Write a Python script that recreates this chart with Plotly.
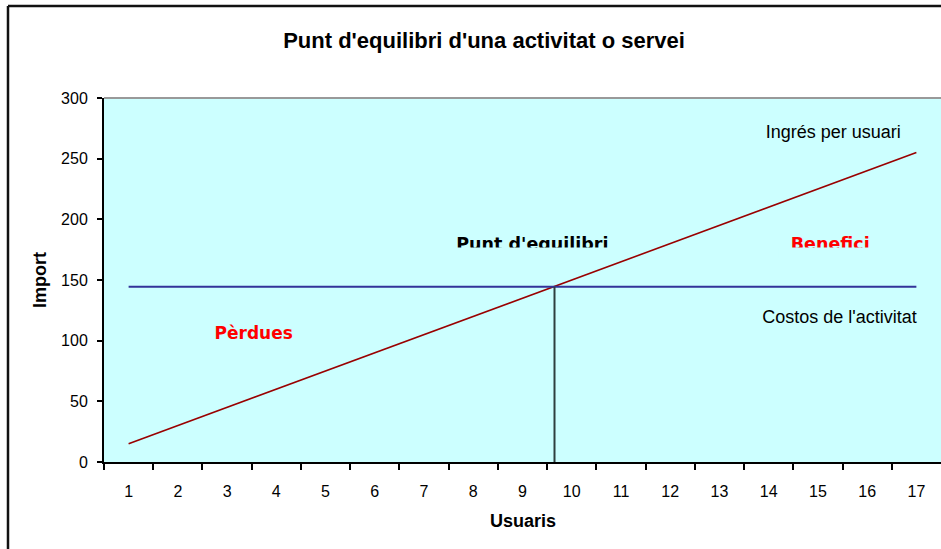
import plotly.graph_objects as go

# ---- data ----
usuaris = [1, 2, 3, 4, 5, 6, 7, 8, 9, 10, 11, 12, 13, 14, 15, 16, 17]
tick_labels = [str(u) for u in usuaris]
ingres = [15, 30, 45, 60, 75, 90, 105, 120, 135, 150, 165, 180, 195, 210, 225, 240, 255]
costos = [144.5] * 17
equilibri_usuaris = 9.65
equilibri_import = 144.5

title_text = "Punt d'equilibri d'una activitat o servei"
x_title = "Usuaris"
y_title = "Import"

fig = go.Figure()

fig.add_trace(go.Scatter(x=usuaris, y=ingres, mode="lines",
                         line=dict(color="#990000", width=1.6),
                         hoverinfo="skip", showlegend=False))
fig.add_trace(go.Scatter(x=usuaris, y=costos, mode="lines",
                         line=dict(color="#333399", width=2),
                         hoverinfo="skip", showlegend=False))
fig.add_trace(go.Scatter(x=[equilibri_usuaris, equilibri_usuaris], y=[0, equilibri_import],
                         mode="lines", line=dict(color="#2F3F3F", width=2),
                         hoverinfo="skip", showlegend=False))

# text labels drawn as traces (so that cover shapes can clip them)
comic = "Comic Sans MS, DejaVu Sans, sans-serif"
fig.add_trace(go.Scatter(x=[3.54], y=[104.5], mode="text", text=["Pèrdues"],
                         textfont=dict(family=comic, size=17, color="#FF0000", weight="bold"),
                         hoverinfo="skip", showlegend=False))
fig.add_trace(go.Scatter(x=[9.2, 15.25], y=[178, 178], mode="text",
                         text=["Punt d'equilibri", "Benefici"],
                         textfont=dict(family=comic, size=17.5, color=["#000000", "#FF0000"], weight="bold"),
                         hoverinfo="skip", showlegend=False))
fig.add_trace(go.Scatter(x=[15.31, 15.44], y=[271, 118.5], mode="text",
                         text=["Ingrés per usuari", "Costos de l'activitat"],
                         textfont=dict(family="Liberation Sans, Arial, sans-serif", size=18, color="#000000"),
                         hoverinfo="skip", showlegend=False))

shapes = [
    # clip the lower part of the two labels
    dict(type="rect", xref="x", yref="y", x0=7.4, x1=10.9, y0=168, y1=176.8,
         fillcolor="#CCFFFF", line=dict(width=0), layer="above"),
    dict(type="rect", xref="x", yref="y", x0=14.2, x1=16.3, y0=168, y1=176.8,
         fillcolor="#CCFFFF", line=dict(width=0), layer="above"),
    # plot area top border
    dict(type="line", xref="paper", yref="paper", x0=0, x1=1, y0=1, y1=1,
         line=dict(color="#999999", width=2)),
    # outer chart border
    dict(type="line", xref="paper", yref="paper", x0=-0.1147, x1=-0.1147, y0=-0.5, y1=1.2527,
         line=dict(color="#111111", width=2.5)),
    dict(type="line", xref="paper", yref="paper", x0=-0.1147, x1=1.2, y0=1.2527, y1=1.2527,
         line=dict(color="#111111", width=2.5)),
]

fig.update_layout(
    width=941, height=549,
    margin=dict(l=104, r=0, t=98, b=87, autoexpand=False),
    paper_bgcolor="#FFFFFF",
    plot_bgcolor="#CCFFFF",
    font=dict(family="Liberation Sans, Arial, sans-serif", color="#000000"),
    title=dict(text=title_text, x=484 / 941, xref="container", xanchor="center",
               y=1 - 40 / 549, yref="container", yanchor="middle",
               font=dict(size=22, weight="bold", color="#000000")),
    shapes=shapes,
    showlegend=False,
    annotations=[
        dict(text=x_title, xref="paper", yref="paper", x=(523 - 104) / 837, y=(462 - 521) / 364,
             showarrow=False, xanchor="center", yanchor="middle",
             font=dict(size=18, weight="bold")),
        dict(text=y_title, xref="paper", yref="paper", x=(40 - 104) / 837, y=0.5,
             showarrow=False, textangle=-90, xanchor="center", yanchor="middle",
             font=dict(size=18, weight="bold")),
    ],
)

fig.update_xaxes(
    range=[0.5, 17.5], tickmode="array", tickvals=usuaris, ticktext=tick_labels,
    ticks="outside", ticklen=14, tickcolor="rgba(0,0,0,0)",
    minor=dict(tickmode="array", tickvals=[u - 0.5 for u in usuaris],
               ticks="outside", ticklen=6, tickcolor="#000000", tickwidth=1.5, showgrid=False),
    showline=True, linecolor="#000000", linewidth=2,
    showgrid=False, zeroline=False, automargin=False,
    tickfont=dict(size=16, color="#000000"),
)
fig.update_yaxes(
    range=[0, 300], tickmode="array", tickvals=[0, 50, 100, 150, 200, 250, 300],
    ticks="outside", ticklen=5, tickcolor="#000000", tickwidth=1.5,
    showline=True, linecolor="#000000", linewidth=2,
    showgrid=False, zeroline=False, ticklabelstandoff=6, automargin=False,
    tickfont=dict(size=16, color="#000000"),
)

fig.write_html(
    "out.html",
    config={"displayModeBar": False},
    post_script="document.body.style.margin='0';document.body.style.padding='0';document.body.style.overflow='hidden';",
)
